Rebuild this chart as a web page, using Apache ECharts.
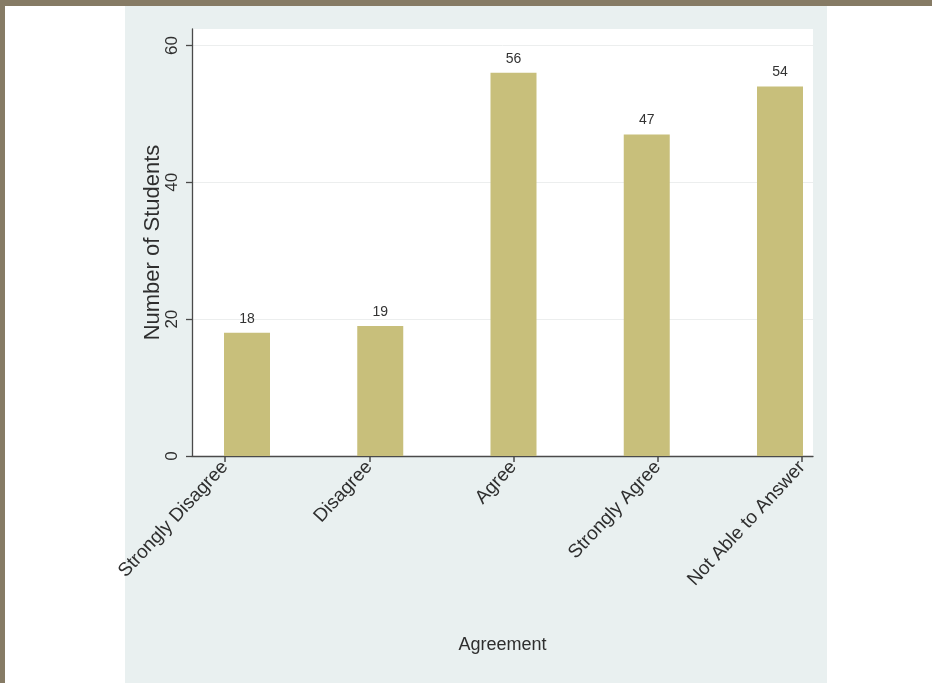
<!DOCTYPE html>
<html>
<head>
<meta charset="utf-8">
<script src="https://cdn.jsdelivr.net/npm/echarts@6/dist/echarts.min.js"></script>
<style>
html,body{margin:0;padding:0;background:#fff;}
#wrap{position:relative;width:932px;height:683px;overflow:hidden;background:#fff;}
#topband{position:absolute;left:0;top:0;width:932px;height:6px;background:#867b65;}
#leftband{position:absolute;left:0;top:0;width:5px;height:683px;background:#867b65;}
#panel{position:absolute;left:125px;top:6px;width:702px;height:677px;background:#e9f0f0;}
#chart{position:absolute;left:0;top:0;width:932px;height:683px;}
</style>
</head>
<body>
<div id="wrap">
  <div id="topband"></div>
  <div id="leftband"></div>
  <div id="panel"></div>
  <div id="chart"></div>
</div>
<script>
const categories = ['Strongly Disagree', 'Disagree', 'Agree', 'Strongly Agree', 'Not Able to Answer'];
const students = [18, 19, 56, 47, 54];
const yTicks = [0, 20, 40, 60];
const yTop = 62.4;

const FONT = "'Liberation Sans', Arial, sans-serif";
const chart = echarts.init(document.getElementById('chart'), null, {renderer: 'canvas'});

const gridTop = 29, gridBottom = 227;
const hiddenY = (gi) => ({
  type: 'value', gridIndex: gi, min: 0, max: yTop, show: false
});

chart.setOption({
  backgroundColor: 'transparent',
  animation: false,
  grid: [
    {left: 192, right: 119, top: gridTop, bottom: gridBottom, show: true, backgroundColor: '#ffffff', borderWidth: 0},
    {left: 225, right: 130, top: gridTop, bottom: gridBottom},
    {left: 247, right: 152, top: gridTop, bottom: gridBottom}
  ],
  xAxis: [
    {
      type: 'category', gridIndex: 0, data: categories,
      axisLine: {show: true, lineStyle: {color: '#4a4a4a', width: 1.3}},
      axisTick: {show: false}, axisLabel: {show: false}, splitLine: {show: false},
      name: 'Agreement', nameLocation: 'middle', nameGap: 180, nameMoveOverlap: false,
      nameTextStyle: {fontFamily: FONT, fontSize: 18, color: '#2e2e2e'}
    },
    {
      type: 'category', gridIndex: 1, data: categories, boundaryGap: false,
      axisLine: {show: false},
      axisTick: {show: true, length: 6, lineStyle: {color: '#4a4a4a', width: 1.5}},
      axisLabel: {rotate: 47, margin: 8, fontFamily: FONT, fontSize: 19, color: '#2e2e2e', interval: 0},
      splitLine: {show: false}
    },
    {
      type: 'category', gridIndex: 2, data: categories, boundaryGap: false, show: false
    }
  ],
  yAxis: [
    {
      type: 'value', gridIndex: 0, min: 0, max: yTop,
      axisLine: {show: true, lineStyle: {color: '#4a4a4a', width: 1.3}},
      axisTick: {show: true, length: 6, customValues: yTicks, lineStyle: {color: '#4a4a4a', width: 1.3}},
      axisLabel: {rotate: 90, margin: 11, customValues: yTicks, fontFamily: FONT, fontSize: 17, color: '#2e2e2e'},
      splitLine: {show: true, lineStyle: {color: '#eceeee', width: 1}},
      name: 'Number of Students', nameLocation: 'middle', nameGap: 28, nameRotate: 90, nameMoveOverlap: false,
      nameTextStyle: {fontFamily: FONT, fontSize: 22, color: '#2e2e2e'}
    },
    hiddenY(1),
    hiddenY(2)
  ],
  series: [
    {
      type: 'bar', xAxisIndex: 2, yAxisIndex: 2, data: students,
      barWidth: 46, clip: false,
      itemStyle: {color: '#c8bf7b'},
      label: {show: true, position: 'top', distance: 7, fontFamily: FONT, fontSize: 14, color: '#333'}
    }
  ]
});
</script>
</body>
</html>
